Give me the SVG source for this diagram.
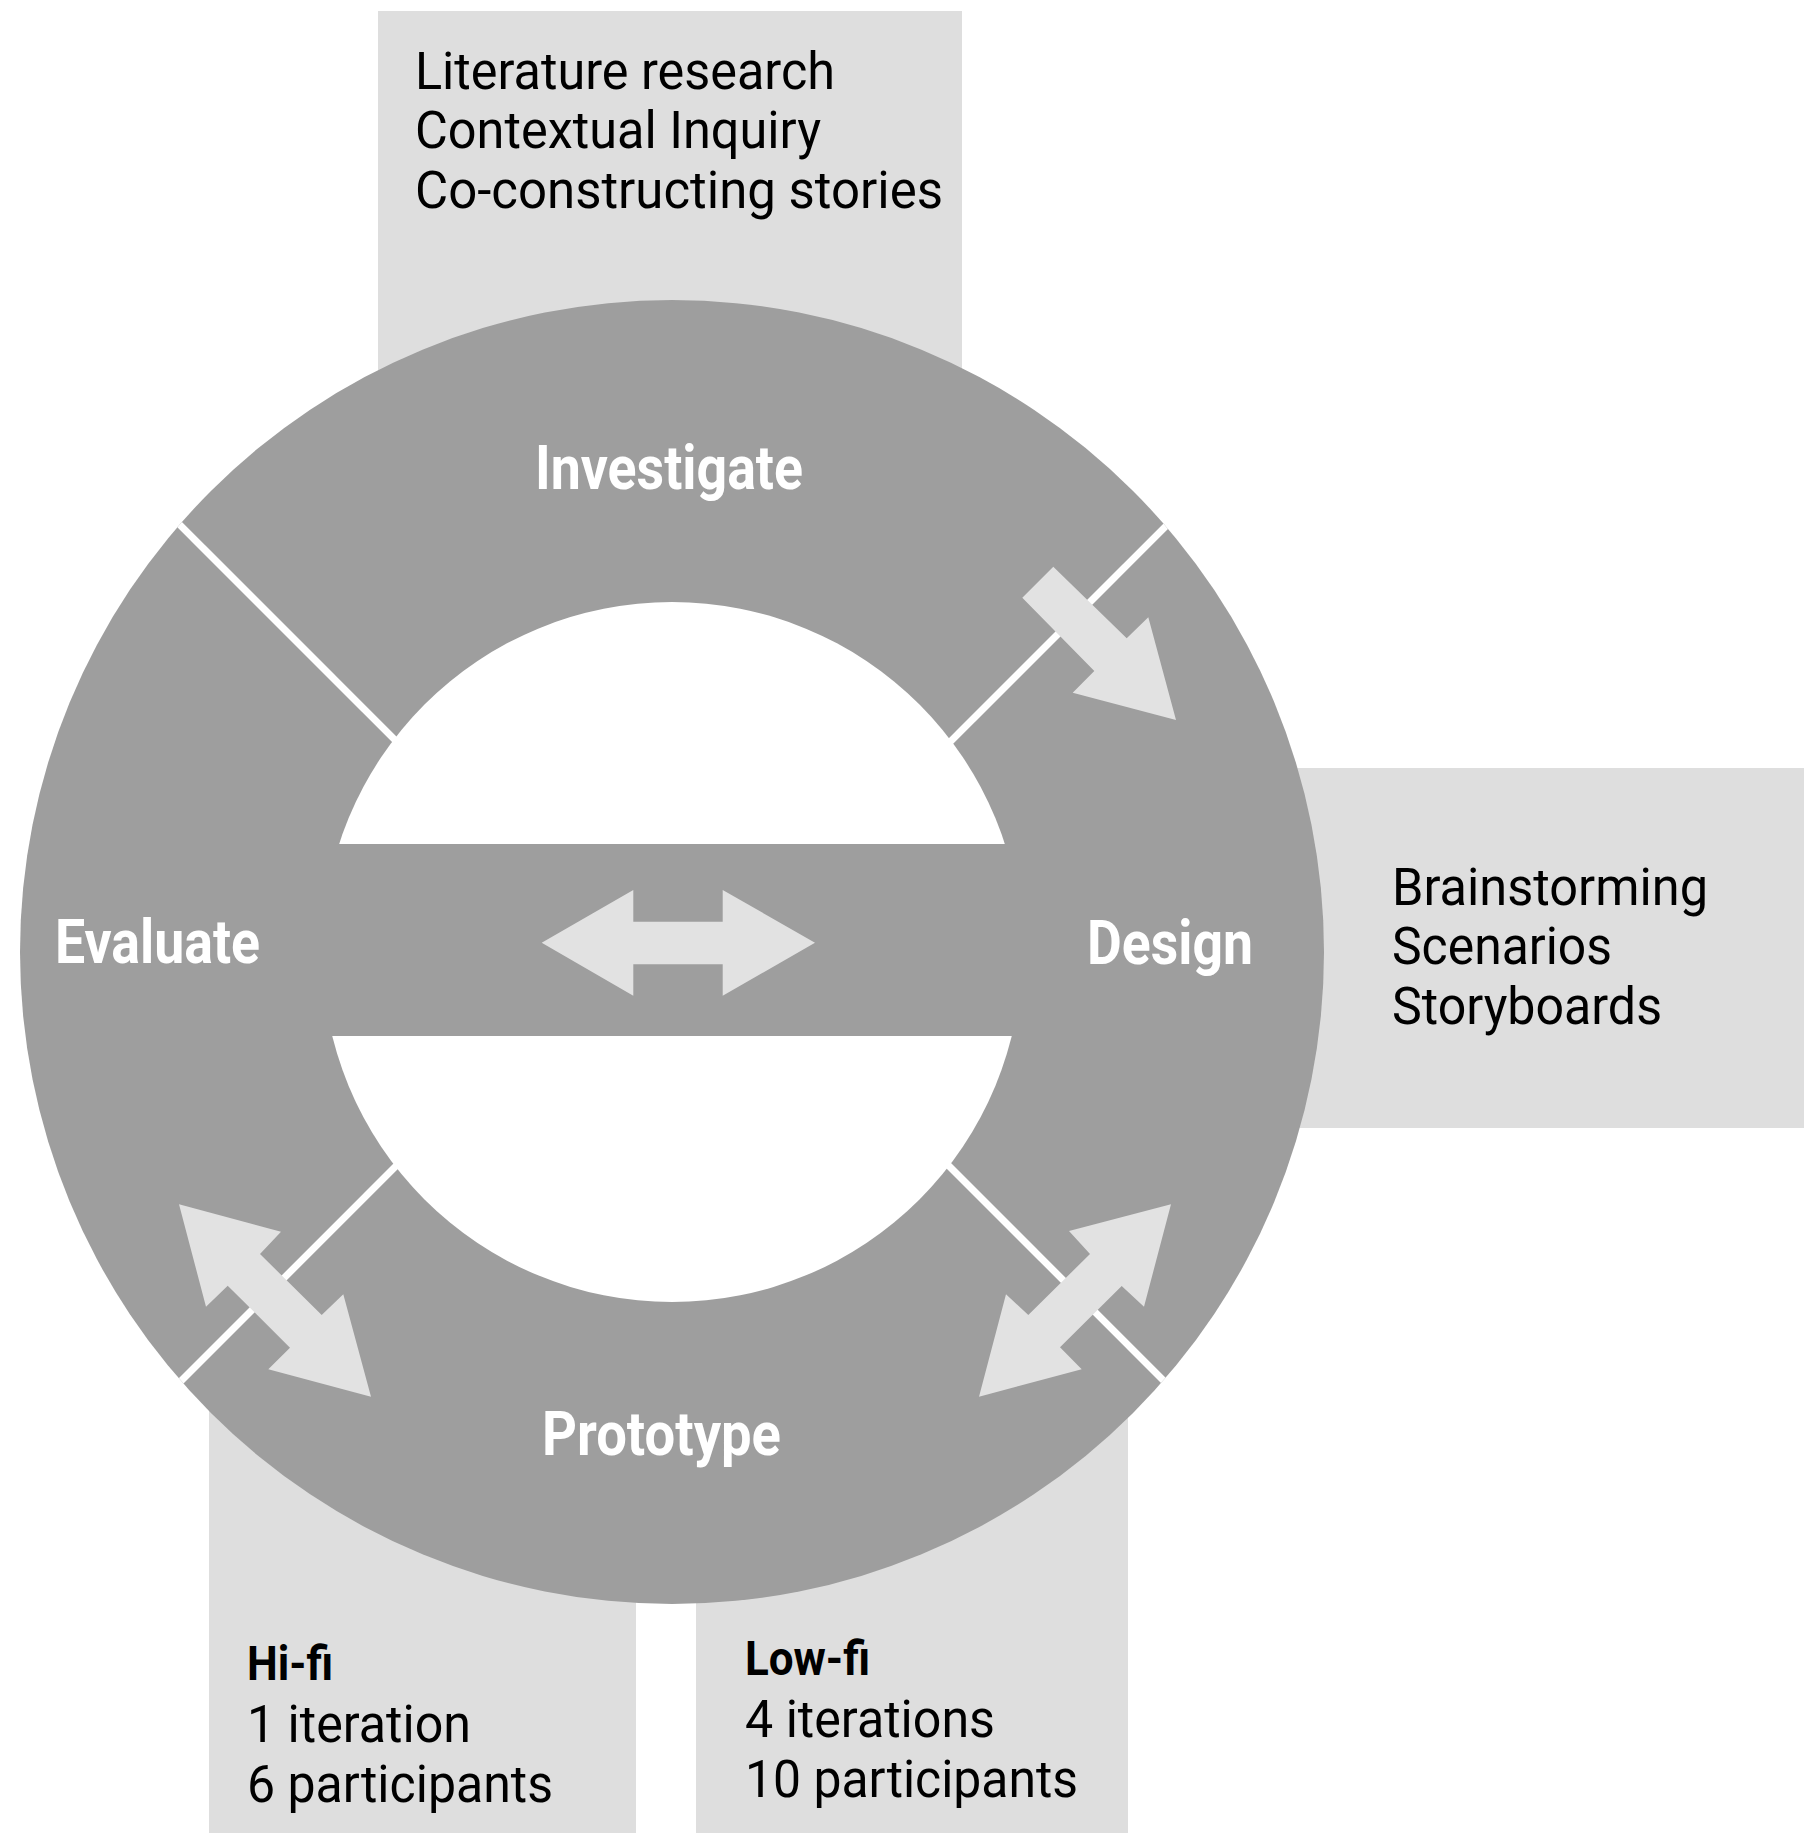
<svg xmlns="http://www.w3.org/2000/svg" width="1804" height="1833" viewBox="0 0 1804 1833">
<style>
.box{fill:#dedede}
.ring{fill:#9e9e9e}
.hole{fill:#ffffff}
.div{stroke:#ffffff;stroke-width:7;fill:none}
.arr{fill:#e2e2e2}
.lbl{font-family:Roboto,"Liberation Sans",sans-serif;font-weight:700;fill:#ffffff;font-size:62px}
.txt{font-family:Roboto,"Liberation Sans",sans-serif;fill:#000000;font-size:51px}
.hd{font-family:Roboto,"Liberation Sans",sans-serif;font-weight:700;fill:#000000;font-size:48px}
</style>
<defs>
<clipPath id="outer"><circle cx="672" cy="952" r="652"/></clipPath>
</defs>
<rect width="1804" height="1833" fill="#ffffff"/>
<g id="box-investigate">
<rect class="box" x="378" y="11" width="584" height="400"/>
<text class="txt" x="415" y="89" textLength="420" lengthAdjust="spacingAndGlyphs">Literature research</text>
<text class="txt" x="415" y="148" textLength="406" lengthAdjust="spacingAndGlyphs">Contextual Inquiry</text>
<text class="txt" x="415" y="208" textLength="528" lengthAdjust="spacingAndGlyphs">Co-constructing stories</text>
</g>
<g id="box-design">
<rect class="box" x="1200" y="768" width="604" height="360"/>
<text class="txt" x="1392" y="905" textLength="316" lengthAdjust="spacingAndGlyphs">Brainstorming</text>
<text class="txt" x="1392" y="964" textLength="220" lengthAdjust="spacingAndGlyphs">Scenarios</text>
<text class="txt" x="1392" y="1024" textLength="270" lengthAdjust="spacingAndGlyphs">Storyboards</text>
</g>
<g id="box-hifi">
<rect class="box" x="209" y="1300" width="427" height="533"/>
<text class="hd" x="247" y="1680" textLength="86" lengthAdjust="spacingAndGlyphs">Hi-fi</text>
<text class="txt" x="247" y="1742" textLength="224" lengthAdjust="spacingAndGlyphs">1 iteration</text>
<text class="txt" x="247" y="1802" textLength="306" lengthAdjust="spacingAndGlyphs">6 participants</text>
</g>
<g id="box-lowfi">
<rect class="box" x="696" y="1300" width="432" height="533"/>
<text class="hd" x="745" y="1675" textLength="125" lengthAdjust="spacingAndGlyphs">Low-fi</text>
<text class="txt" x="745" y="1737" textLength="250" lengthAdjust="spacingAndGlyphs">4 iterations</text>
<text class="txt" x="745" y="1797" textLength="333" lengthAdjust="spacingAndGlyphs">10 participants</text>
</g>
<g id="cycle">
<circle class="ring" cx="672" cy="952" r="652"/>
<circle class="hole" cx="672" cy="952" r="350"/>
<rect class="ring" x="310" y="844" width="724" height="192"/>
</g>
<g id="connectors">
<g clip-path="url(#outer)">
<line class="div" x1="430" y1="775" x2="140" y2="485"/>
<line class="div" x1="920" y1="772" x2="1210" y2="482"/>
<line class="div" x1="430" y1="1132" x2="140" y2="1422"/>
<line class="div" x1="920" y1="1137" x2="1210" y2="1427"/>
</g>
<polygon class="arr" points="1022.3,597.7 1053.3,566.7 1126.7,638.3 1148.3,617.3 1176,720 1072.7,692.7 1094.3,671"/>
<polygon class="arr" points="179,1204.3 281,1231.7 260,1254 321.7,1315 343.3,1294.3 371,1396.7 268.3,1369.3 290,1347.7 227.7,1285.7 206,1306.7"/>
<polygon class="arr" points="1171,1204.3 1144,1306.7 1121.7,1286 1060,1347.3 1081.7,1369.3 979,1396.7 1006,1294.3 1028.3,1315 1090,1254 1069,1231"/>
<polygon class="arr" points="541.7,942.7 633.3,890 633.3,921.7 722.7,921.7 722.7,890 815,942.7 722.7,995.7 722.7,964.3 633.3,964.3 633.3,995.7"/>
</g>
<g id="node-investigate"><text class="lbl" x="535" y="489" textLength="268" lengthAdjust="spacingAndGlyphs">Investigate</text></g>
<g id="node-evaluate"><text class="lbl" x="55" y="963" textLength="205" lengthAdjust="spacingAndGlyphs">Evaluate</text></g>
<g id="node-design"><text class="lbl" x="1087" y="964" textLength="166" lengthAdjust="spacingAndGlyphs">Design</text></g>
<g id="node-prototype"><text class="lbl" x="542" y="1455" textLength="239" lengthAdjust="spacingAndGlyphs">Prototype</text></g>
</svg>
